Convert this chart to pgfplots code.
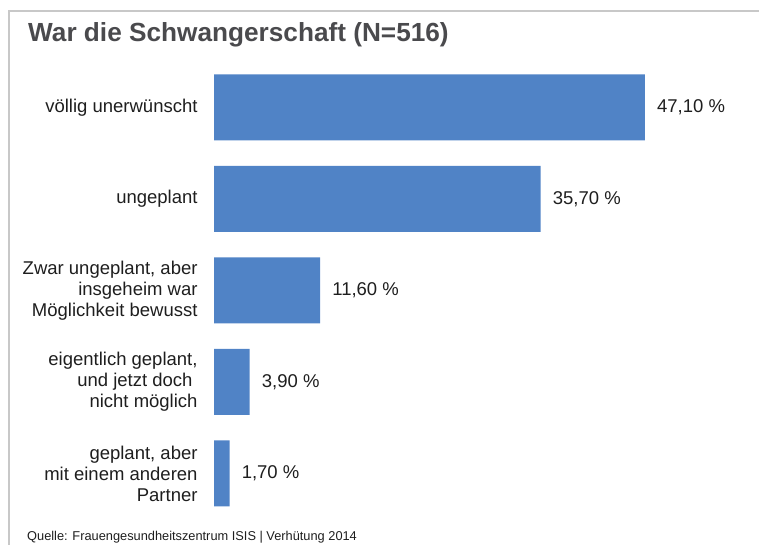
\documentclass[border=0pt]{standalone}
\usepackage{fontspec}
\setmainfont{Liberation Sans}
\usepackage{pgfplots}
\pgfplotsset{compat=1.18}
\definecolor{barblue}{RGB}{80,131,198}
\definecolor{titlegray}{RGB}{74,74,77}
\definecolor{txt}{RGB}{30,30,30}
\definecolor{framegray}{RGB}{200,200,200}
\begin{document}
\begin{tikzpicture}[x=1pt,y=1pt]
\useasboundingbox (0,0) rectangle (759,545);
\draw[framegray, line width=1.2pt] (9,-1) -- (9,534) -- (760,534);
\node[anchor=base west, inner sep=0pt, text=titlegray, font=\fontsize{26.2}{30}\selectfont\bfseries] at (28,503) {War die Schwangerschaft (N=516)};
\node[anchor=base west, inner sep=0pt, text=txt, font=\fontsize{12.8}{15}\selectfont] at (27,4) {Quelle: Frauengesundheitszentrum ISIS | Verhütung 2014};
\begin{axis}[
  at={(214pt,25.8pt)}, anchor=south west,
  scale only axis, width=457.5pt, height=457.5pt,
  xmin=0, xmax=50, ymin=-0.5, ymax=4.5, y dir=reverse,
  xbar, bar width=66pt, bar shift=0pt,
  axis line style={draw=none}, major tick style={draw=none},
  xtick=\empty, ytick={0,1,2,3,4},
  yticklabels={{völlig unerwünscht},{ungeplant},{Zwar ungeplant, aber\\insgeheim war\\Möglichkeit bewusst},{eigentlich geplant,\\und jetzt doch\kern5pt\\nicht möglich},{geplant, aber\\mit einem anderen\\Partner}},
  yticklabel style={align=right, inner sep=0pt, xshift=-12pt, text=txt, font=\fontsize{18.5}{21}\selectfont},
  clip=false,
  point meta=explicit symbolic,
  nodes near coords,
  nodes near coords style={anchor=west, inner sep=0pt, xshift=12pt, text=txt, font=\fontsize{18.5}{21}\selectfont},
]
\addplot[fill=barblue, draw=none] coordinates {
  (47.1,0) [47,10 \%]
  (35.7,1) [35,70 \%]
  (11.6,2) [11,60 \%]
  (3.9,3) [3,90 \%]
  (1.7,4) [1,70 \%]
};
\end{axis}
\end{tikzpicture}
\end{document}
